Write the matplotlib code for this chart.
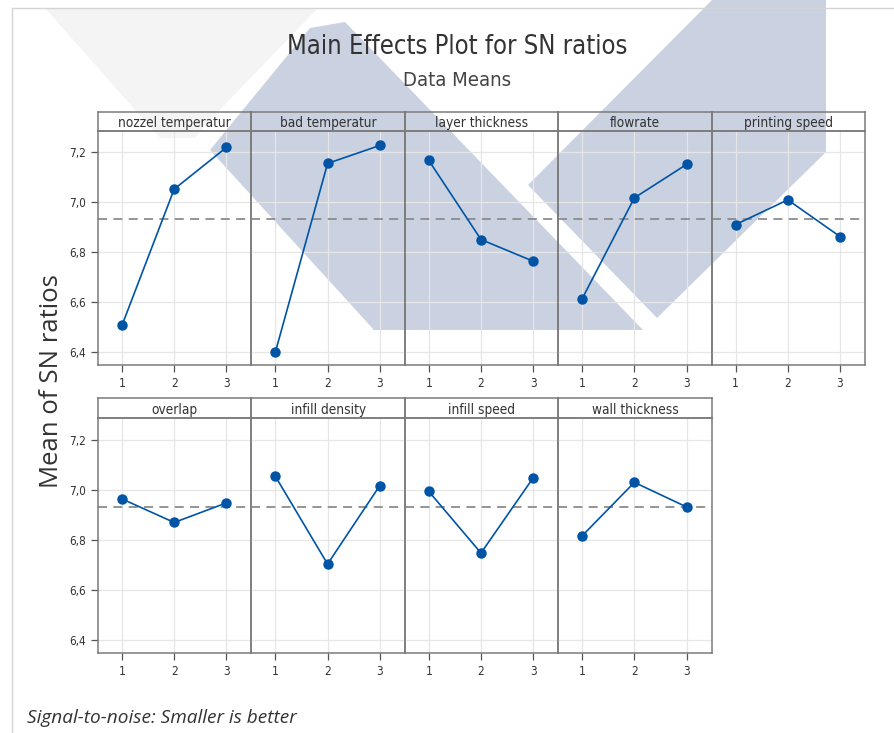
import matplotlib
matplotlib.use('Agg')
import matplotlib.pyplot as plt
from matplotlib import font_manager
from matplotlib.font_manager import FontProperties
from matplotlib.patches import Polygon
from matplotlib.lines import Line2D
from matplotlib.ticker import FuncFormatter

# data (mean SN ratio per level)
levels = [1, 2, 3]
top_names = ['nozzel temperatur', 'bad temperatur', 'layer thickness', 'flowrate', 'printing speed']
nozzel_temp = [6.507, 7.053, 7.220]
bad_temp = [6.400, 7.156, 7.228]
layer_thickness = [7.168, 6.851, 6.764]
flowrate = [6.614, 7.018, 7.152]
printing_speed = [6.911, 7.010, 6.863]
bottom_names = ['overlap', 'infill density', 'infill speed', 'wall thickness']
overlap = [6.963, 6.869, 6.947]
infill_density = [7.053, 6.703, 7.016]
infill_speed = [6.993, 6.747, 7.047]
wall_thickness = [6.816, 7.029, 6.931]
grand_mean = 6.932
yticks = [6.4, 6.6, 6.8, 7.0, 7.2]

W, H = 894, 733

# look for a narrow regular-weight sans face, else plain Open Sans
def wt(f):
    w = f.weight
    if isinstance(w, str):
        return {'normal': 400, 'regular': 400, 'book': 400, 'light': 300}.get(w, 700)
    return w

def find_narrow(style):
    best = None
    for f in font_manager.fontManager.ttflist:
        narrowish = ('Narrow' in f.name or 'Condensed' in f.name or
                     f.stretch in ('condensed', 'semi-condensed'))
        if not narrowish or f.style != style or wt(f) > 450:
            continue
        if 'Mono' in f.name or 'Serif' in f.name:
            continue
        score = 0 if 'Liberation' in f.name else (1 if 'Noto' in f.name else 2)
        score += abs(wt(f) - 400) / 1000
        if best is None or score < best[0]:
            best = (score, f)
    return best[1] if best else None

nf = find_narrow('normal')
narrow = FontProperties(fname=nf.fname) if nf else FontProperties(family='Open Sans')
wide = FontProperties(family='Open Sans')
wide_it = FontProperties(family='Open Sans', style='italic')

fig = plt.figure(figsize=(W / 100, H / 100), dpi=100)
renderer = fig.canvas.get_renderer()

def fit(t, target_px):
    # size the text so its width matches the reference
    w = t.get_window_extent(renderer).width
    t.set_fontsize(t.get_fontsize() * target_px / w)

def fbox(x0, y0, x1, y1):
    # pixel box -> figure rect
    return [x0 / W, 1 - y1 / H, (x1 - x0) / W, (y1 - y0) / H]

# watermark shapes behind the chart
def wm(pts, color, alpha):
    fig.patches.append(Polygon([(x / W, 1 - y / H) for x, y in pts], closed=True,
                               transform=fig.transFigure, facecolor=color,
                               edgecolor='none', alpha=alpha, zorder=-5))

wm([(45, 8), (150, 8), (255, 8), (318, 8), (210, 120), (195, 138), (160, 138)], '#c4c4c4', 0.18)
wm([(310, 28), (345, 22), (643, 330), (374, 330), (210, 150)], '#8a9bbb', 0.45)
wm([(712, 0), (826, 0), (826, 152), (657, 318), (528, 185)], '#8a9bbb', 0.45)

# page frame
fig.add_artist(Line2D([12 / W, 1], [1 - 8 / H, 1 - 8 / H], color='#d4d4d4', lw=1))
fig.add_artist(Line2D([12 / W, 12 / W], [0, 1 - 8 / H], color='#d4d4d4', lw=1))

t = fig.text(457 / W, 1 - 47 / H, 'Main Effects Plot for SN ratios', ha='center', va='center',
             fontproperties=narrow, fontsize=18, color='#333333')
fit(t, 341)
t = fig.text(457 / W, 1 - 81 / H, 'Data Means', ha='center', va='center',
             fontproperties=narrow, fontsize=14, color='#444444')
fit(t, 109)
fig.text(52 / W, 1 - 381 / H, 'Mean of SN ratios', ha='center', va='center', rotation=90,
         fontproperties=wide, fontsize=18.5, color='#333333')
t = fig.text(27 / W, 1 - 718 / H, 'Signal-to-noise: Smaller is better', ha='left', va='center',
             fontproperties=wide_it, fontsize=13, color='#333333')
fit(t, 268)

probe = fig.text(0, 0, 'nozzel temperatur', fontproperties=narrow, fontsize=10)
fit(probe, 113)
strip_fs = probe.get_fontsize()
probe.remove()
probe = fig.text(0, 0, '7,2', fontproperties=narrow, fontsize=9)
fit(probe, 17)
tick_fs = min(probe.get_fontsize(), 10.5)
probe.remove()

fmt = FuncFormatter(lambda v, p: ('%.1f' % v).replace('.', ','))
spine_c = '#7a7a7a'

def panel(i, name, values, top, strip_bot, bottom, left=98, pw=153.4):
    x0 = left + i * pw
    x1 = x0 + pw
    ax = fig.add_axes(fbox(x0, strip_bot, x1, bottom))
    ax.set_facecolor('none')
    ax.plot(levels, values, color='#0054a6', lw=1.2, marker='o', markersize=6.5, zorder=3)
    ax.axhline(grand_mean, color='#8c8c8c', lw=1.3, ls=(0, (5, 3.5)), zorder=2)
    ax.set_xlim(0.54, 3.48)
    ax.set_ylim(6.348, 7.286)
    ax.set_xticks(levels)
    ax.set_yticks(yticks)
    ax.yaxis.set_major_formatter(fmt)
    ax.grid(True, color='#e6e6e6', lw=0.9, zorder=0)
    ax.set_axisbelow(True)
    for s in ax.spines.values():
        s.set_color(spine_c)
        s.set_linewidth(1.1)
    ax.tick_params(direction='out', length=5, width=0.9, color='#555555',
                   labelcolor='#333333')
    for lab in ax.get_xticklabels() + ax.get_yticklabels():
        lab.set_fontproperties(narrow)
        lab.set_fontsize(tick_fs)
    if i != 0:
        ax.tick_params(axis='y', left=False, labelleft=False)
    sx = fig.add_axes(fbox(x0, top, x1, strip_bot))
    sx.set_facecolor('none')
    sx.set_xticks([])
    sx.set_yticks([])
    for s in sx.spines.values():
        s.set_color(spine_c)
        s.set_linewidth(1.1)
    sx.text(0.5, 0.42, name, transform=sx.transAxes, ha='center', va='center',
            fontproperties=narrow, fontsize=strip_fs, color='#333333')
    return ax

top_vals = [nozzel_temp, bad_temp, layer_thickness, flowrate, printing_speed]
for i, (n, v) in enumerate(zip(top_names, top_vals)):
    panel(i, n, v, 112, 131, 365)

bottom_vals = [overlap, infill_density, infill_speed, wall_thickness]
for i, (n, v) in enumerate(zip(bottom_names, bottom_vals)):
    panel(i, n, v, 398, 418, 653)

fig.savefig('out.png', dpi=100)
